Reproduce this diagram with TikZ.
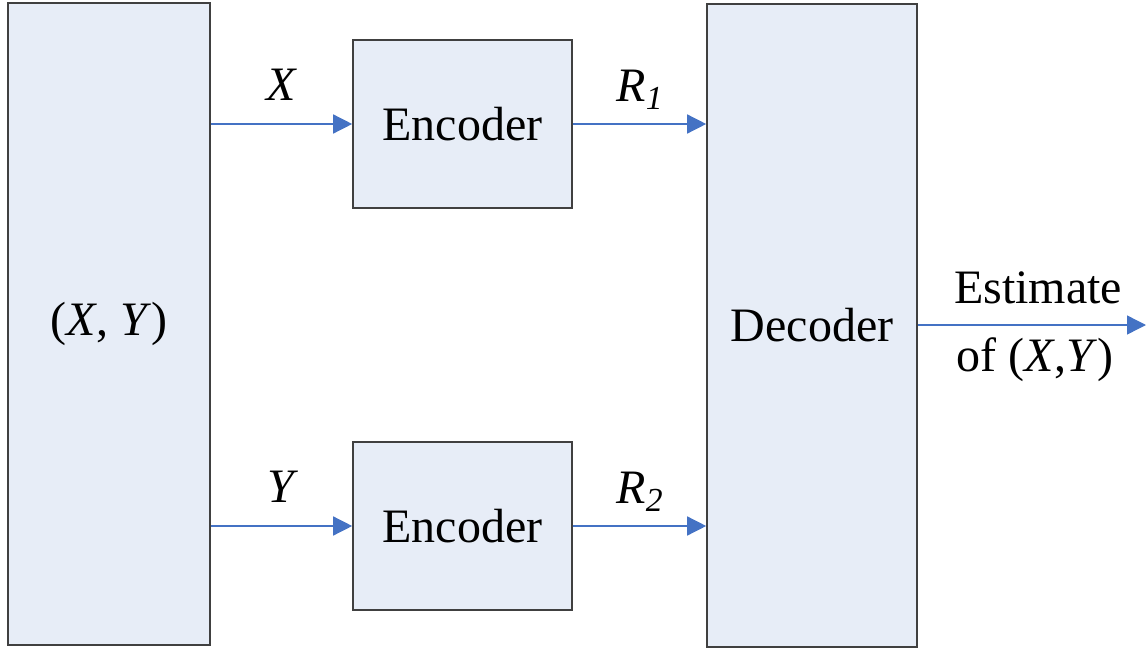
\documentclass[tikz,border=0pt]{standalone}
\usepackage{fontspec}
\setmainfont{Liberation Serif}
\usetikzlibrary{arrows.meta}
\definecolor{boxfill}{HTML}{E7EDF7}
\definecolor{boxline}{HTML}{404040}
\definecolor{arrowblue}{HTML}{4472C4}
\begin{document}
\begin{tikzpicture}[x=0.5pt, y=-0.5pt, font=\fontsize{24}{28}\selectfont,
  block/.style={rectangle,draw=boxline,fill=boxfill,line width=0.8pt,inner sep=0pt},
  link/.style={draw=arrowblue,line width=0.7pt,-{Triangle[length=9.5pt,width=9.5pt]}},
  lab/.style={inner sep=0pt}]
\useasboundingbox (0,0) rectangle (1148,648);
\begin{scope}
\node[block,minimum width=101pt,minimum height=321pt] (src) at (109,324) {(\textit{X}, \textit{Y})};
\node[block,minimum width=109.5pt,minimum height=84pt] (enc1) at (462.5,124) {Encoder};
\node[block,minimum width=109.5pt,minimum height=84pt] (enc2) at (462.5,526) {Encoder};
\node[block,minimum width=105pt,minimum height=321.5pt] (dec) at (812,325.5) {Decoder};
\coordinate (out) at (1146,325);
%\node[block] (v) at (,) {};
\end{scope}
\begin{scope}
\draw[link] (src.east |- enc1.west) -- (enc1.west);
\draw[link] (enc1.east) -- (enc1.east -| dec.west);
\draw[link] (src.east |- enc2.west) -- (enc2.west);
\draw[link] (enc2.east) -- (enc2.east -| dec.west);
\draw[link] (dec.east |- out) -- (out);
\end{scope}
\begin{scope}[every node/.style={lab}]
\node (lx) at (282,85) {\textit{X}};
\node (lr1) at (640,90) {\textit{R}\textsubscript{\textit{1}}};
\node (ly) at (283,487) {\textit{Y}};
\node (lr2) at (640,492) {\textit{R}\textsubscript{\textit{2}}};
\node (lest) at (1038,288) {Estimate};
\node (lof) at (1035,360) {of (\textit{X},\textit{Y})};
\end{scope}
\end{tikzpicture}
\end{document}
